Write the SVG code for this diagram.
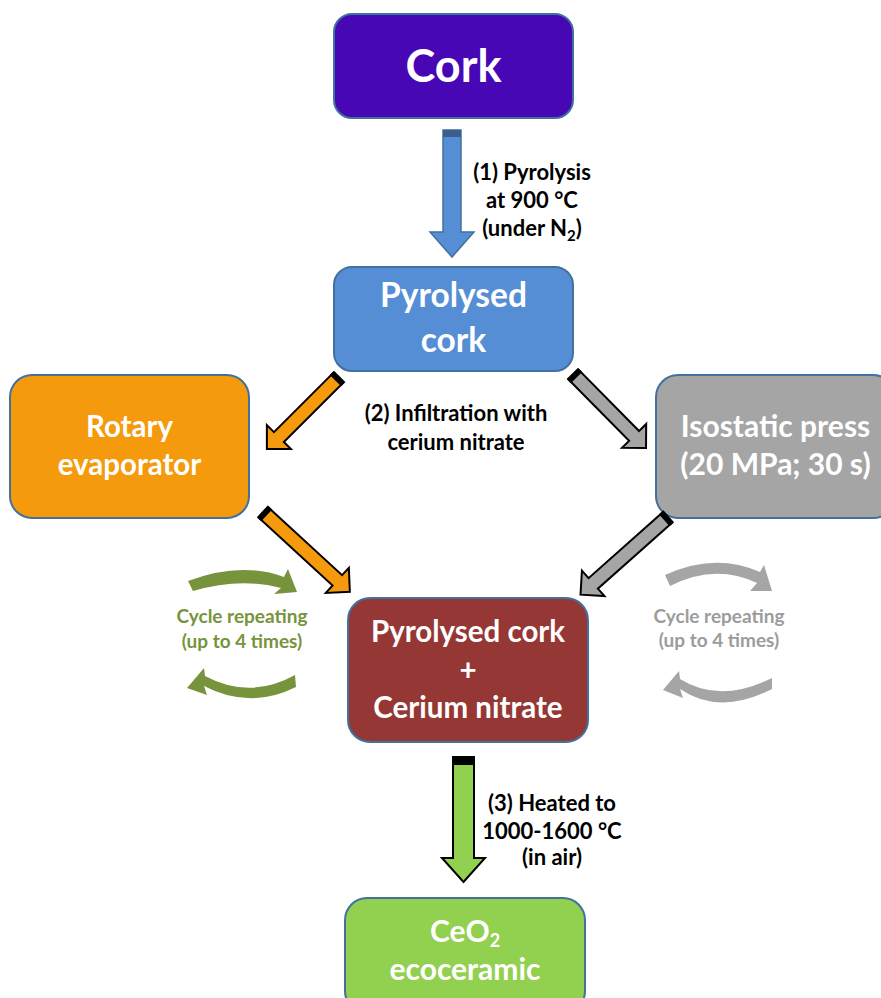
<svg xmlns="http://www.w3.org/2000/svg" width="881" height="998" viewBox="0 0 881 998">
<style>
.node{stroke:#41719C;stroke-width:2}
.nt{font-family:Lato,"Liberation Sans",sans-serif;font-weight:bold;fill:#fff;text-anchor:middle}
.lt{font-family:Lato,"Liberation Sans",sans-serif;font-weight:bold;fill:#000;text-anchor:middle;font-size:22px}
.ct{font-family:Lato,"Liberation Sans",sans-serif;font-weight:bold;text-anchor:middle;font-size:19px}
.blk{stroke:#000;stroke-width:2;stroke-linejoin:miter}
</style>
<rect width="881" height="998" fill="#fff"/>

<g id="cork">
<rect class="node" x="334" y="14" width="239" height="104" rx="18" fill="#4807B4"/>
<text class="nt" x="453.5" y="82" font-size="45">Cork</text>
</g>

<g id="pyrolysed-cork">
<rect class="node" x="334" y="267" width="239" height="104" rx="18" fill="#558ED5"/>
<text class="nt" x="453.5" y="307" font-size="33.5">Pyrolysed</text>
<text class="nt" x="453.5" y="352" font-size="33.5">cork</text>
</g>

<g id="rotary-evaporator">
<rect class="node" x="10" y="375" width="239" height="143" rx="22" fill="#F59A0C"/>
<text class="nt" x="129.5" y="437" font-size="29.5">Rotary</text>
<text class="nt" x="129.5" y="475" font-size="29.5">evaporator</text>
</g>

<g id="isostatic-press">
<rect class="node" x="656" y="375" width="239" height="143" rx="22" fill="#A5A5A5"/>
<text class="nt" x="775.5" y="437" font-size="30">Isostatic press</text>
<text class="nt" x="775.5" y="475" font-size="30">(20 MPa; 30 s)</text>
</g>

<g id="pyrolysed-cork-cerium">
<rect class="node" x="348" y="598" width="240" height="144" rx="22" fill="#953735"/>
<text class="nt" x="468" y="642" font-size="29.5">Pyrolysed cork</text>
<text class="nt" x="468" y="681" font-size="29.5">+</text>
<text class="nt" x="468" y="718" font-size="29.5">Cerium nitrate</text>
</g>

<g id="ceo2-ecoceramic">
<rect class="node" x="345" y="898" width="240" height="115" rx="22" fill="#92D050"/>
<text class="nt" x="465" y="942" font-size="30">CeO<tspan font-size="18" dy="5">2</tspan></text>
<text class="nt" x="465" y="980" font-size="30">ecoceramic</text>
</g>

<g id="connectors">
<!-- (1) blue arrow -->
<g transform="translate(452,130) rotate(90)">
<path d="M0,-9 L102,-9 L102,-22 L127,0 L102,22 L102,9 L0,9 Z" fill="#558ED5" stroke="#41719C" stroke-width="1.5"/>
<rect x="0" y="-9" width="7" height="18" fill="#3A5F8F"/>
</g>
<!-- orange to rotary -->
<g transform="translate(339,377) rotate(135)">
<path class="blk" d="M0,-7 L85,-7 L85,-17 L102,0 L85,17 L85,7 L0,7 Z" fill="#F59A0C"/>
<rect x="0" y="-8" width="5" height="16" fill="#000"/>
</g>
<!-- orange rotary to product -->
<g transform="translate(263,512) rotate(42.6)">
<path class="blk" d="M0,-7 L101,-7 L101,-17 L118,0 L101,17 L101,7 L0,7 Z" fill="#F59A0C"/>
<rect x="0" y="-8" width="5" height="16" fill="#000"/>
</g>
<!-- gray to press -->
<g transform="translate(573,374) rotate(45.4)">
<path class="blk" d="M0,-7 L87,-7 L87,-17 L104,0 L87,17 L87,7 L0,7 Z" fill="#A5A5A5"/>
<rect x="0" y="-8" width="5" height="16" fill="#000"/>
</g>
<!-- gray press to product -->
<g transform="translate(668,517) rotate(138.4)">
<path class="blk" d="M0,-7 L100,-7 L100,-17 L117,0 L100,17 L100,7 L0,7 Z" fill="#A5A5A5"/>
<rect x="0" y="-8" width="5" height="16" fill="#000"/>
</g>
<!-- (3) green arrow -->
<g transform="translate(463.5,757) rotate(90)">
<path class="blk" d="M0,-10.5 L101,-10.5 L101,-21.5 L125,0 L101,21.5 L101,10.5 L0,10.5 Z" fill="#92D050"/>
<rect x="0" y="-11" width="8" height="22" fill="#000"/>
</g>
<!-- cycle arrows green -->
<path d="M188,581 Q240,561 284,577 L288,569 L297,592 L274,594 L281,588 Q240,577 193,591 Z" fill="#77933C"/>
<path d="M295,675 Q250,700 205,676 L204,668 L187,688 L207,695 L204,686 Q250,710 296,687 Z" fill="#77933C"/>
<!-- cycle arrows gray -->
<path d="M665,575 Q715,552 760,572 L764,565 L772,591 L750,591 L757,583 Q715,563 670,586 Z" fill="#A5A5A5"/>
<path d="M772,678 Q720,704 680,679 L679,671 L663,690 L683,698 L680,689 Q720,716 772,689 Z" fill="#A5A5A5"/>
</g>

<g id="labels">
<text class="lt" x="532" y="180">(1) Pyrolysis</text>
<text class="lt" x="532" y="208">at 900 °C</text>
<text class="lt" x="532" y="236">(under N<tspan font-size="15" dy="5">2</tspan><tspan dy="-5">)</tspan></text>
<text class="lt" x="456" y="421">(2) Infiltration with</text>
<text class="lt" x="456" y="450">cerium nitrate</text>
<text class="lt" x="552" y="811">(3) Heated to</text>
<text class="lt" x="552" y="839">1000-1600 °C</text>
<text class="lt" x="552" y="865">(in air)</text>
<text class="ct" x="242" y="623" fill="#77933C">Cycle repeating</text>
<text class="ct" x="242" y="648" fill="#77933C">(up to 4 times)</text>
<text class="ct" x="719" y="623" fill="#9C9C9C">Cycle repeating</text>
<text class="ct" x="719" y="647" fill="#9C9C9C">(up to 4 times)</text>
</g>
</svg>
